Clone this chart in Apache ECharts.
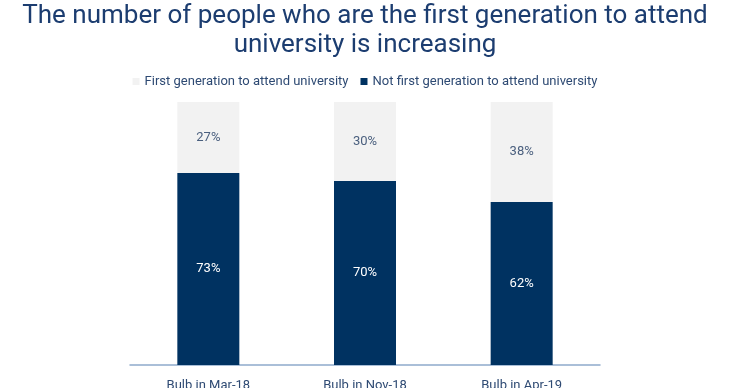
<!DOCTYPE html>
<html><head><meta charset="utf-8">
<script src="https://cdn.jsdelivr.net/npm/echarts@6/dist/echarts.min.js"></script>
<style>html,body{margin:0;padding:0;background:#fff}#c{width:730px;height:388px}</style>
</head><body><div id="c"></div>
<script>
const categories = ['Bulb in Mar-18', 'Bulb in Nov-18', 'Bulb in Apr-19'];
const notFirstGen = [73, 70, 62];
const firstGen = [27, 30, 38];
const seriesNames = ['First generation to attend university', 'Not first generation to attend university'];

const chart = echarts.init(document.getElementById('c'));
chart.setOption({
  animation: false,
  title: {
    text: 'The number of people who are the first generation to attend\nuniversity is increasing',
    left: 'center', top: -3,
    textStyle: { fontFamily: 'Roboto', fontWeight: 'normal', fontSize: 26, lineHeight: 29, color: '#1c3d70' }
  },
  legend: {
    top: 70, left: 'center', itemWidth: 7, itemHeight: 7, itemGap: 12,
    icon: 'rect',
    data: seriesNames,
    textStyle: { fontFamily: 'Roboto', fontSize: 13, color: '#2e4a73' }
  },
  grid: { left: 130, right: 130, top: 102, bottom: 23, containLabel: false, outerBoundsMode: 'none' },
  xAxis: {
    type: 'category', data: categories,
    axisLine: { lineStyle: { color: '#8eaacb', width: 1.5 } },
    axisTick: { show: false },
    axisLabel: { margin: 14, fontFamily: 'Roboto', fontSize: 13, color: '#2e4a73' }
  },
  yAxis: { type: 'value', min: 0, max: 100, show: false, splitLine: { show: false } },
  series: [
    {
      name: seriesNames[1], type: 'bar', stack: 's', data: notFirstGen, barWidth: 62,
      itemStyle: { color: '#003261' },
      label: { show: true, position: 'inside', formatter: '{c}%', color: '#ffffff', fontFamily: 'Roboto', fontSize: 13 }
    },
    {
      name: seriesNames[0], type: 'bar', stack: 's', data: firstGen, barWidth: 62,
      itemStyle: { color: '#f2f2f2' },
      label: { show: true, position: 'inside', formatter: '{c}%', color: '#4a5f7e', fontFamily: 'Roboto', fontSize: 13 }
    }
  ]
});
</script></body></html>
